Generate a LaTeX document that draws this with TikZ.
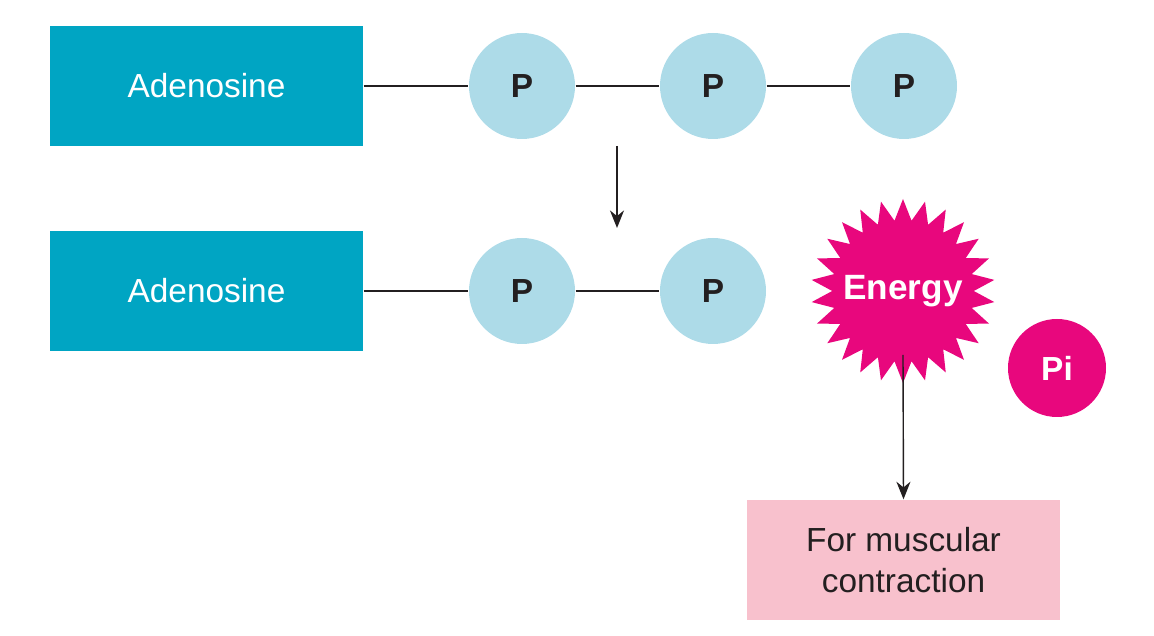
\documentclass[tikz,border=0pt]{standalone}
\usepackage{fontspec}
\setmainfont{Liberation Sans}
\usetikzlibrary{arrows.meta,positioning,shapes.geometric}
\definecolor{adencol}{HTML}{00A5C3}
\definecolor{phoscol}{HTML}{ADDBE8}
\definecolor{enercol}{HTML}{E8077D}
\definecolor{usecol}{HTML}{F8C1CD}
\definecolor{linecol}{HTML}{231F20}

\begin{document}
\begin{tikzpicture}[
    >=Stealth,
    font=\fontsize{9.5}{11.5}\selectfont,
    aden/.style={
        fill=adencol, text=white,
        minimum width=3.13cm, minimum height=1.2cm
    },
    phos/.style={
        circle, fill=phoscol, minimum size=1.06cm, inner sep=0pt,
        text=linecol, font=\fontsize{9.5}{11}\selectfont\bfseries
    },
    bond/.style={thin, draw=linecol},
    arr/.style={->, thin, draw=linecol, >={Stealth[length=5pt,width=4pt]}},
]
\useasboundingbox (0,0) rectangle (11.54,-6.36);

% ── ATP row ──
\node[aden] (aden1) at (2.065,-0.86) {Adenosine};
\node[phos] (p1) at (5.22,-0.86) {P};
\node[phos] (p2) at (7.13,-0.86) {P};
\node[phos] (p3) at (9.04,-0.86) {P};
\draw[bond] (aden1.east) -- (p1);
\draw[bond] (p1) -- (p2);
\draw[bond] (p2) -- (p3);

% ── ADP row ──
\node[aden] (aden2) at (2.065,-2.91) {Adenosine};
\node[phos] (q1) at (5.22,-2.91) {P};
\node[phos] (q2) at (7.13,-2.91) {P};
\draw[bond] (aden2.east) -- (q1);
\draw[bond] (q1) -- (q2);

% reaction arrow
\coordinate (rtop) at (6.17,-1.46);
\coordinate (rbot) at (6.17,-2.28);
\draw[arr] (rtop) -- (rbot);

% ── Energy release ──
\node[star, star points=26, star point ratio=1.3, fill=enercol,
      minimum size=1.84cm, inner sep=0pt] (burst) at (9.03,-2.91) {};
\node[text=white, font=\fontsize{10}{11}\selectfont\bfseries] (energy) at (burst) {Energy};
\node[circle, fill=enercol, minimum size=0.98cm, inner sep=0pt, text=white,
      font=\fontsize{9.5}{11}\selectfont\bfseries] (pi) at (10.57,-3.68) {Pi};

\node[fill=usecol, text=linecol, align=center,
      minimum width=3.13cm, minimum height=1.2cm] (use) at (9.035,-5.6)
      {For muscular\\contraction};
\coordinate (etop) at (9.03,-3.55);
\draw[arr] (etop) -- (use.north);

\end{tikzpicture}
\end{document}
